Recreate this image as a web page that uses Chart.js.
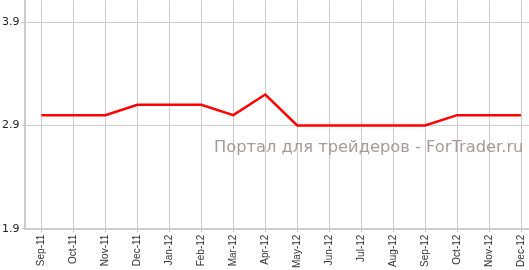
<!DOCTYPE html>
<html>
<head>
<meta charset="utf-8">
<script src="https://cdn.jsdelivr.net/npm/chart.js@4/dist/chart.umd.min.js"></script>
<style>
  html, body { margin: 0; padding: 0; background: #fff; overflow: hidden; }
  /* the plot runs past the right and top edges of the picture */
  #wrap { width: 537px; height: 278px; margin-top: -8px; }
</style>
</head>
<body>
<div id="wrap"><canvas id="rate-chart"></canvas></div>
<script>
// data
const months = ['Sep-11', 'Oct-11', 'Nov-11', 'Dec-11', 'Jan-12', 'Feb-12', 'Mar-12', 'Apr-12',
  'May-12', 'Jun-12', 'Jul-12', 'Aug-12', 'Sep-12', 'Oct-12', 'Nov-12', 'Dec-12'];
const rateValues = [3.0, 3.0, 3.0, 3.1, 3.1, 3.1, 3.0, 3.2, 2.9, 2.9, 2.9, 2.9, 2.9, 3.0, 3.0, 3.0];
const yTicks = [1.9, 2.9, 3.9];
const watermark = 'Портал для трейдеров - ForTrader.ru';

const watermarkPlugin = {
  id: 'watermark',
  beforeDatasetsDraw(chart) {
    const ctx = chart.ctx;
    ctx.save();
    ctx.font = '16.3px "DejaVu Sans"';
    ctx.fillStyle = '#a89a9a';
    ctx.textBaseline = 'alphabetic';
    ctx.fillText(watermark, 214, chart.chartArea.top + 151);
    ctx.restore();
  }
};

const chart = new Chart(
  document.getElementById('rate-chart'), {
  type: 'line',
  data: {
    labels: months,
    datasets: [
      {
        data: rateValues,
        borderColor: '#ff0000',
        backgroundColor: '#ff0000',
        borderWidth: 2.5,
        pointRadius: 0,
        tension: 0,
      },
    ],
  },
  options: {
    responsive: true,
    maintainAspectRatio: false,
    animation: false,
    plugins: {
      legend: { display: false },
      tooltip: { enabled: false },
    },
    scales: {
      x: {
        offset: true,
        grid: {
          color: '#cccccc',
          tickLength: 4,
          offset: false,
        },
        border: { color: '#cccccc', width: 2 },
        ticks: {
          autoSkip: false,
          minRotation: 90,
          maxRotation: 90,
          padding: 2,
          color: '#333333',
          font: { family: 'Liberation Sans', size: 10 },
        },
      },
      y: {
        min: 1.9,
        max: 4.11,
        afterBuildTicks(axis) {
          axis.ticks = yTicks.map(v => ({ value: v }));
        },
        grid: { color: '#cccccc', tickLength: 4 },
        border: { color: '#cccccc', width: 2 },
        ticks: {
          padding: 2,
          color: '#222222',
          font: { family: 'DejaVu Sans', size: 11 },
          callback: v => v.toFixed(1),
        },
      },
    },
  },
  plugins: [watermarkPlugin],
});
</script>
</body>
</html>
